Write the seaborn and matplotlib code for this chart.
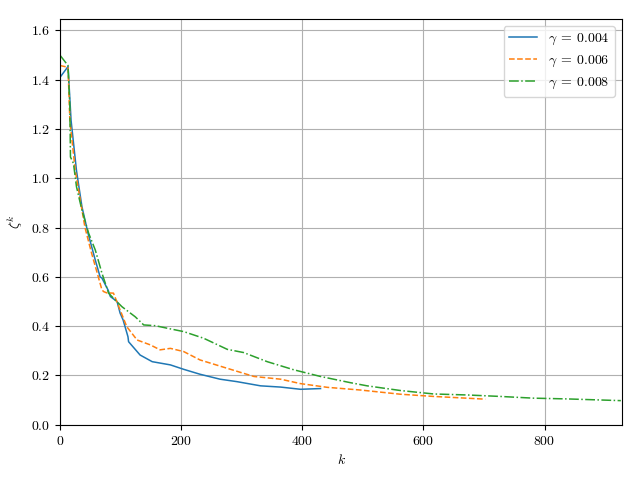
import matplotlib
import matplotlib.pyplot as plt
import pandas as pd
import seaborn as sns

matplotlib.use('Agg')

plt.rcParams['font.family'] = 'serif'
plt.rcParams['font.serif'] = ['cmr10', 'DejaVu Serif']
plt.rcParams['mathtext.fontset'] = 'cm'
plt.rcParams['axes.formatter.use_mathtext'] = True

# gamma = 0.004
k_004 = [0, 13, 18, 27, 36, 46, 58, 66, 69, 79, 83, 94, 99, 104, 112, 113, 132, 152, 182,
         204, 231, 264, 292, 331, 364, 397, 430]
z_004 = [1.41, 1.453, 1.235, 1.03, 0.884, 0.777, 0.668, 0.60, 0.595, 0.547, 0.52, 0.50,
         0.453, 0.425, 0.357, 0.337, 0.283, 0.256, 0.243, 0.225, 0.205, 0.185, 0.175,
         0.158, 0.153, 0.144, 0.147]

# gamma = 0.006
k_006 = [0, 13, 16, 25, 41, 52, 63, 69, 72, 77, 88, 99, 110, 127, 149, 165, 182, 204, 231,
         276, 320, 364, 397, 441, 496, 562, 617, 702]
z_006 = [1.457, 1.45, 1.235, 1.03, 0.80, 0.695, 0.60, 0.547, 0.54, 0.535, 0.534, 0.466,
         0.398, 0.344, 0.324, 0.304, 0.31, 0.297, 0.263, 0.229, 0.196, 0.185, 0.167,
         0.152, 0.141, 0.124, 0.115, 0.104]

# gamma = 0.008
k_008 = [0, 13, 16, 17, 22, 27, 36, 47, 58, 69, 80, 91, 102, 124, 138, 157, 180, 204, 237,
         276, 303, 342, 386, 430, 479, 507, 562, 617, 672, 727, 782, 837, 926]
z_008 = [1.498, 1.457, 1.29, 1.086, 1.06, 0.965, 0.87, 0.777, 0.709, 0.615, 0.534, 0.506,
         0.479, 0.438, 0.405, 0.402, 0.39, 0.378, 0.351, 0.306, 0.293, 0.256, 0.223, 0.196,
         0.171, 0.158, 0.139, 0.125, 0.121, 0.115, 0.108, 0.105, 0.098]

series = [
    (r'$\gamma\:=\:0.004$', k_004, z_004, '-'),
    (r'$\gamma\:=\:0.006$', k_006, z_006, '--'),
    (r'$\gamma\:=\:0.008$', k_008, z_008, '-.'),
]

fig, ax = plt.subplots(figsize=(6.4, 4.8), dpi=100)
colors = sns.color_palette('tab10')
for i, (label, k, z, ls) in enumerate(series):
    df = pd.DataFrame({'k': k, 'z': z})
    sns.lineplot(data=df, x='k', y='z', ax=ax, color=colors[i], linestyle=ls,
                 linewidth=1.1, label=label, sort=False)

ax.set_xlim(0, 928)
ax.set_ylim(0, 1.645)
ax.set_xlabel(r'$k$')
ax.set_ylabel(r'$\zeta^k$')
ax.grid(True)
ax.legend(loc='upper right')
fig.subplots_adjust(left=0.094, right=0.972, bottom=0.115, top=0.960)
fig.savefig('out.png')
